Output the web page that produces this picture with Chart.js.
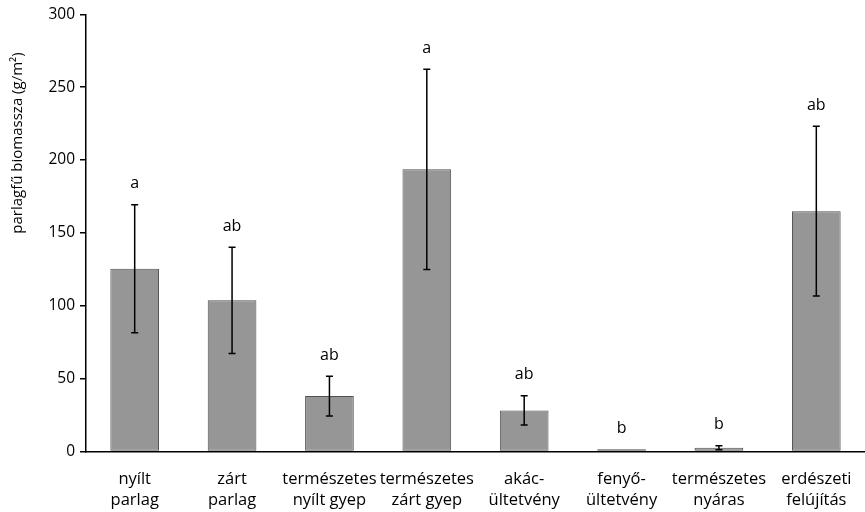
<!DOCTYPE html>
<html>
<head>
<meta charset="utf-8">
<script src="https://cdn.jsdelivr.net/npm/chart.js@4"></script>
<style>
  html, body { margin: 0; padding: 0; background: #fff; overflow: hidden; }
  #wrap { width: 865px; height: 512px; }
</style>
</head>
<body>
<div id="wrap"><canvas id="chart" width="865" height="512"></canvas></div>
<script>
// data
const categories = [
  ["nyílt", "parlag"],
  ["zárt", "parlag"],
  ["természetes", "nyílt gyep"],
  ["természetes", "zárt gyep"],
  ["akác-", "ültetvény"],
  ["fenyő-", "ültetvény"],
  ["természetes", "nyáras"],
  ["erdészeti", "felújítás"]
];
const means = [125.4, 103.7, 38.0, 193.6, 28.2, 1.5, 2.6, 164.9];
const errors = [44.0, 36.5, 13.6, 68.7, 10.0, 0, 1.4, 58.2];
const letters = ["a", "ab", "ab", "a", "ab", "b", "b", "ab"];
const yTicks = [0, 50, 100, 150, 200, 250, 300];
const yTitle = "parlagfű biomassza (g/m²)";

const FONT = "'Open Sans', sans-serif";

// error bars + significance letters
const errorBarPlugin = {
  id: "errorBars",
  afterDatasetsDraw(chart) {
    const ctx = chart.ctx;
    const y = chart.scales.y;
    const meta = chart.getDatasetMeta(0);
    ctx.save();
    ctx.strokeStyle = "#000";
    ctx.lineWidth = 1.5;
    meta.data.forEach((bar, i) => {
      const x = bar.x;
      const e = errors[i];
      const top = y.getPixelForValue(means[i] + e);
      if (e > 0) {
        const bot = y.getPixelForValue(means[i] - e);
        ctx.beginPath();
        ctx.moveTo(x, top); ctx.lineTo(x, bot);
        ctx.moveTo(x - 3.5, top); ctx.lineTo(x + 3.5, top);
        ctx.moveTo(x - 3.5, bot); ctx.lineTo(x + 3.5, bot);
        ctx.stroke();
      }
      ctx.fillStyle = "#000";
      ctx.font = "16px " + FONT;
      ctx.textAlign = "center";
      ctx.textBaseline = "middle";
      ctx.fillText(letters[i], x, top - 21);
    });
    ctx.restore();
  },
  afterDraw(chart) {
    // y title sits above the middle of the axis in the original
    const ctx = chart.ctx;
    ctx.save();
    ctx.translate(18, 143);
    ctx.rotate(-Math.PI / 2);
    ctx.fillStyle = "#000";
    ctx.font = "15px " + FONT;
    ctx.textAlign = "center";
    ctx.textBaseline = "middle";
    ctx.fillText(yTitle, 0, 0);
    ctx.restore();
  }
};

new Chart(document.getElementById("chart"), {
  type: "bar",
  data: {
    labels: categories,
    datasets: [{
      data: means,
      backgroundColor: "#969696",
      borderColor: "#505050",
      borderWidth: 1,
      borderSkipped: false,
      barPercentage: 1,
      categoryPercentage: 0.5
    }]
  },
  options: {
    responsive: false,
    animation: false,
    layout: { padding: { top: 13, right: 0, left: 0, bottom: 0 } },
    plugins: { legend: { display: false }, tooltip: { enabled: false } },
    scales: {
      x: {
        grid: { display: false },
        border: { color: "#000", width: 1.5 },
        ticks: { color: "#000", font: { family: FONT, size: 16.5, lineHeight: 1.3 }, padding: 9, maxRotation: 0, autoSkip: false },
        afterFit(scale) { scale.height = 60.5; }
      },
      y: {
        min: 0, max: 300,
        grid: { drawOnChartArea: false, drawTicks: true, tickLength: 6, color: "#000", lineWidth: 1.5 },
        border: { color: "#000", width: 1.5 },
        afterBuildTicks(scale) { scale.ticks = yTicks.map(v => ({ value: v })); },
        ticks: { color: "#000", font: { family: FONT, size: 15.5 }, padding: 5 },
        afterFit(scale) { scale.width = 86; }
      }
    }
  },
  plugins: [errorBarPlugin]
});
</script>
</body>
</html>
